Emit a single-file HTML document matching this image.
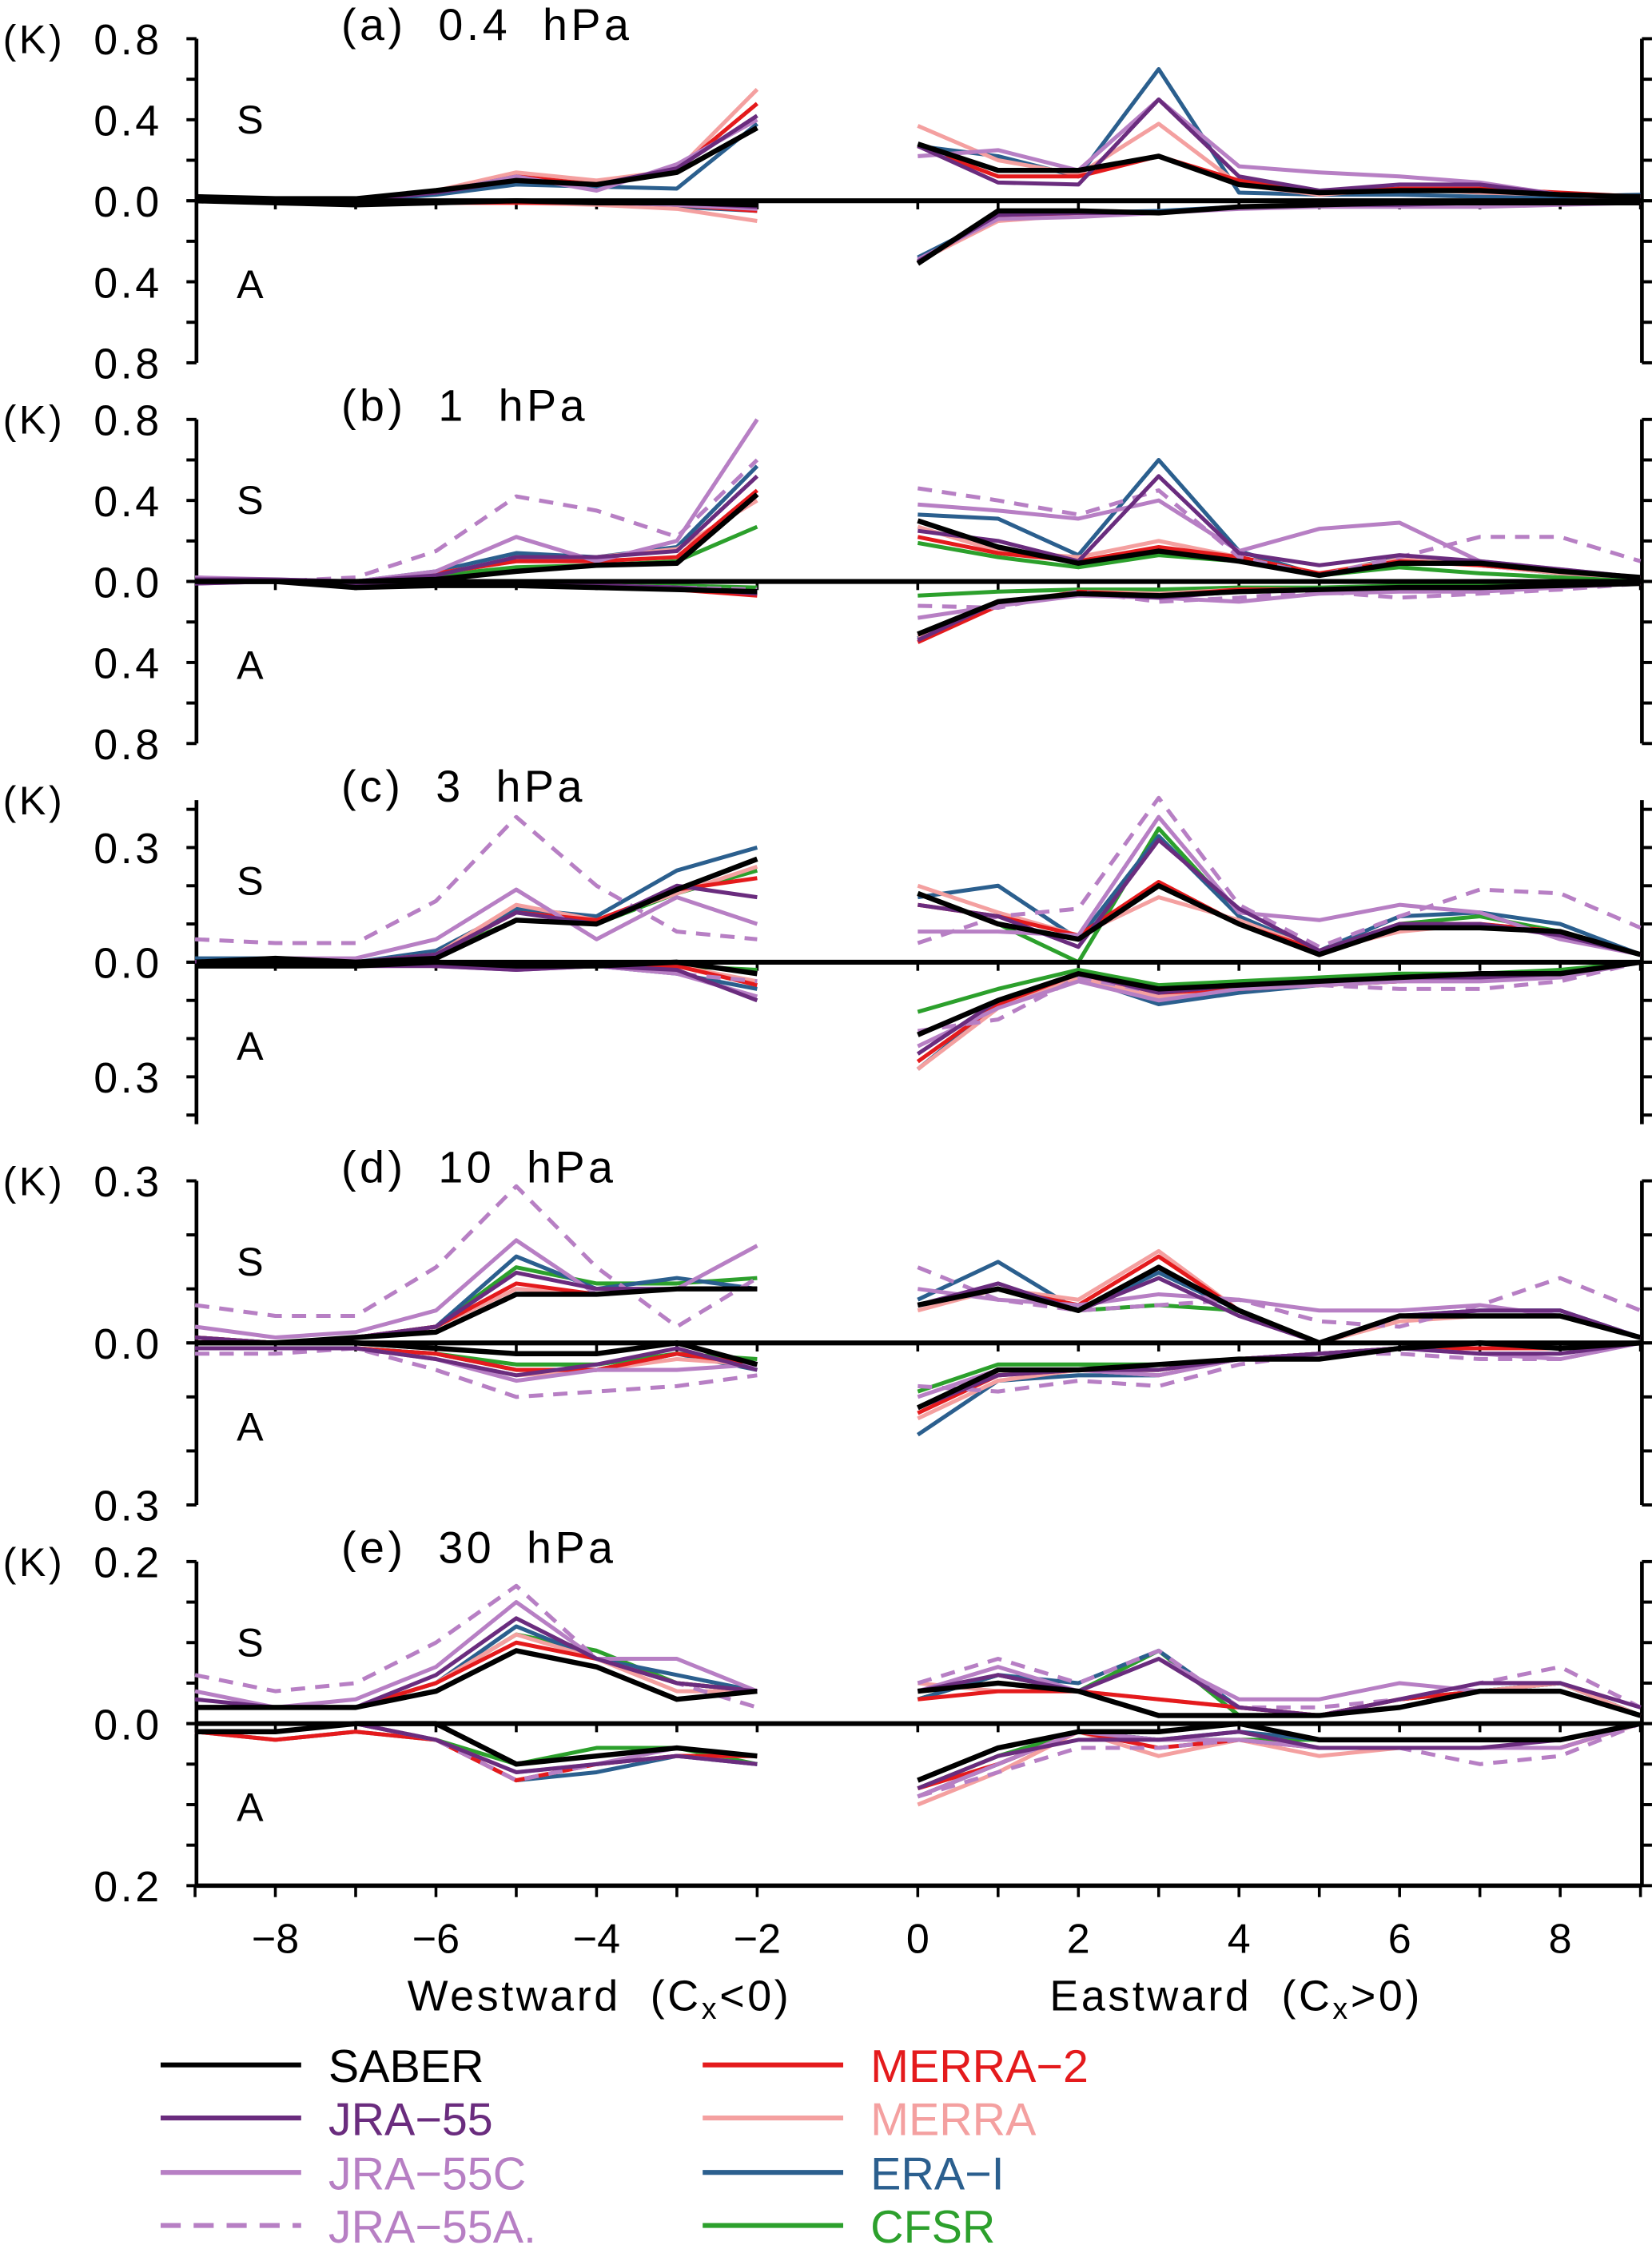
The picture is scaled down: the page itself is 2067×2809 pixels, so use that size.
<!DOCTYPE html>
<html><head><meta charset="utf-8"><style>
html,body{margin:0;padding:0;background:#fff;}
svg{display:block;font-family:"Liberation Sans","DejaVu Sans",sans-serif;}
text{white-space:pre;}
</style></head><body>
<svg id="chart" width="2067" height="2809" viewBox="0 0 1152 1565.6" xmlns="http://www.w3.org/2000/svg"></svg>
<script>
const xWest = [-9,-8,-7,-6,-5,-4,-3,-2];
const xEast = [0,1,2,3,4,5,6,7,8,9];
const seriesNames = ["CFSR","ERA-I","MERRA","MERRA-2","JRA-55A","JRA-55C","JRA-55","SABER"];
const panelTitles = ["(a)  0.4  hPa","(b)  1  hPa","(c)  3  hPa","(d)  10  hPa","(e)  30  hPa"];
const panelMax = [0.8,0.8,0.424,0.3,0.2];
const majorTicks = [[0.4,0.8],[0.4,0.8],[0.3],[0.3],[0.2]];
const minorStep = [0.2,0.2,0.1,0.1,0.05];
const xTickLabels = [-8,-6,-4,-2,0,2,4,6,8];

const aS = {
 "SABER":[.02,.01,.01,.05,.1,.08,.14,.36, .28,.15,.15,.22,.08,.04,.05,.05,.03,.02],
 "JRA-55":[.02,.01,0,.04,.1,.08,.16,.42, .27,.09,.08,.5,.12,.05,.08,.08,.03,.02],
 "JRA-55C":[.02,.01,.01,.04,.12,.05,.18,.4, .22,.25,.15,.5,.17,.14,.12,.09,.03,.01],
 "MERRA-2":[.02,.01,.01,.04,.12,.08,.15,.48, .27,.12,.12,.22,.1,.04,.06,.06,.04,.02],
 "MERRA":[.02,.01,.01,.05,.14,.1,.15,.55, .37,.2,.13,.38,.08,.03,.06,.04,.03,.02],
 "ERA-I":[.01,0,0,.03,.08,.07,.06,.38, .27,.22,.12,.65,.04,.03,.03,.02,.02,.03]
};
const aA = {
 "SABER":[0,.01,.02,.01,0,.01,.01,.02, .31,.05,.05,.06,.03,.02,.01,.01,.01,.01],
 "JRA-55":[0,.01,.01,.01,0,.01,.01,.03, .3,.07,.06,.06,.03,.02,.02,.01,.01,.01],
 "JRA-55C":[0,.01,.01,.01,0,.01,.02,.04, .29,.09,.08,.06,.04,.03,.03,.03,.02,.01],
 "MERRA-2":[0,.01,.01,.01,.01,.01,.02,.05, .3,.08,.06,.06,.03,.02,.02,.01,.01,.01],
 "MERRA":[0,.01,.01,.01,.01,.02,.04,.1, .3,.1,.07,.06,.03,.02,.02,.01,.01,.01],
 "ERA-I":[0,.01,.01,.01,0,.01,.03,.05, .28,.08,.06,.05,.03,.02,.02,.01,.01,.01]
};
const bS = {
 "SABER":[0,0,0,.01,.05,.08,.09,.43, .3,.17,.09,.15,.1,.03,.09,.09,.05,.02],
 "JRA-55":[.01,.01,0,.03,.12,.12,.15,.52, .25,.2,.1,.52,.14,.08,.13,.1,.06,.02],
 "JRA-55C":[.02,.01,0,.05,.22,.1,.2,.8, .38,.35,.31,.4,.15,.26,.29,.1,.06,.02],
 "JRA-55A":[.02,0,.02,.15,.42,.35,.22,.6, .46,.4,.33,.45,.12,.03,.12,.22,.22,.1],
 "MERRA-2":[.01,0,0,.04,.1,.1,.12,.45, .22,.14,.1,.17,.12,.04,.1,.08,.05,.02],
 "MERRA":[.01,0,0,.04,.1,.12,.16,.4, .27,.15,.12,.2,.12,.04,.11,.08,.04,.02],
 "ERA-I":[.01,0,0,.05,.14,.12,.17,.57, .33,.31,.13,.6,.15,.03,.12,.08,.04,.02],
 "CFSR":[0,0,0,.03,.07,.08,.1,.27, .19,.12,.07,.13,.1,.03,.07,.04,.02,.02]
};
const bA = {
 "SABER":[0,0,.03,.02,.02,.03,.04,.05, .26,.1,.06,.07,.05,.04,.03,.03,.02,.01],
 "JRA-55":[.01,0,.02,.01,.02,.02,.03,.06, .29,.1,.06,.08,.05,.04,.03,.03,.02,.01],
 "JRA-55C":[.01,0,.01,.01,.02,.02,.03,.05, .18,.12,.07,.08,.1,.06,.05,.05,.03,.01],
 "JRA-55A":[0,0,.01,.02,.02,.02,.03,.04, .12,.13,.05,.1,.08,.05,.08,.06,.04,.01],
 "MERRA-2":[0,0,.02,.01,.02,.03,.04,.07, .3,.12,.05,.07,.04,.04,.03,.03,.02,.01],
 "MERRA":[0,0,.02,.01,.01,.02,.03,.05, .27,.11,.05,.06,.04,.04,.03,.03,.02,.01],
 "ERA-I":[0,0,.02,.01,.02,.02,.03,.05, .28,.1,.06,.06,.05,.04,.03,.03,.02,.01],
 "CFSR":[0,0,.01,.01,.01,.02,.02,.03, .07,.05,.04,.04,.03,.03,.02,.02,.02,.01]
};
const cS = {
 "SABER":[0,.01,0,.01,.11,.1,.19,.27, .18,.1,.06,.2,.1,.02,.09,.09,.08,.02],
 "JRA-55":[0,.01,0,.02,.13,.1,.2,.17, .15,.12,.04,.32,.14,.03,.1,.1,.07,.02],
 "JRA-55C":[0,.01,.01,.06,.19,.06,.17,.1, .08,.08,.07,.38,.13,.11,.15,.13,.06,.02],
 "JRA-55A":[.06,.05,.05,.16,.38,.2,.08,.06, .05,.12,.14,.43,.15,.04,.12,.19,.18,.09],
 "MERRA-2":[0,0,0,.02,.13,.11,.19,.22, .15,.12,.07,.21,.1,.03,.1,.1,.08,.02],
 "MERRA":[0,0,0,.02,.15,.11,.18,.25, .2,.13,.07,.17,.11,.03,.08,.1,.08,.02],
 "ERA-I":[.01,.01,0,.03,.14,.12,.24,.3, .17,.2,.06,.33,.12,.03,.12,.13,.1,.02],
 "CFSR":[0,.01,0,.02,.11,.1,.18,.24, .18,.1,0,.35,.12,.02,.1,.12,.08,.02]
};
const cA = {
 "SABER":[.01,.01,.01,0,.01,.01,0,.03, .19,.1,.03,.07,.06,.05,.04,.03,.03,0],
 "JRA-55":[0,0,.01,.01,.02,.01,.02,.1, .24,.1,.03,.08,.06,.05,.04,.04,.03,0],
 "JRA-55C":[0,0,0,.01,.02,.01,.03,.09, .22,.12,.05,.1,.07,.06,.05,.05,.04,0],
 "JRA-55A":[0,0,0,.01,.01,.01,.03,.05, .18,.15,.04,.08,.06,.06,.07,.07,.05,0],
 "MERRA-2":[0,0,0,.01,.01,.01,.01,.06, .26,.11,.03,.08,.07,.06,.05,.04,.03,0],
 "MERRA":[0,0,0,.01,.01,.01,.01,.05, .28,.12,.04,.09,.07,.06,.05,.04,.03,0],
 "ERA-I":[0,0,0,.01,.01,.01,.03,.07, .28,.11,.04,.11,.08,.06,.05,.04,.03,0],
 "CFSR":[0,0,0,0,.01,.01,.01,.02, .13,.07,.02,.06,.05,.04,.03,.03,.02,0]
};
const dS = {
 "SABER":[0,0,.01,.02,.09,.09,.1,.1, .07,.1,.06,.14,.06,0,.05,.05,.05,.01],
 "JRA-55":[.01,0,.01,.03,.13,.1,.1,.1, .07,.11,.06,.12,.05,0,.05,.06,.06,.01],
 "JRA-55C":[.03,.01,.02,.06,.19,.09,.1,.18, .1,.08,.07,.09,.08,.06,.06,.07,.05,.01],
 "JRA-55A":[.07,.05,.05,.14,.29,.14,.03,.12, .14,.08,.06,.07,.08,.04,.03,.07,.12,.06],
 "MERRA-2":[.01,0,.01,.03,.11,.09,.1,.1, .07,.1,.07,.16,.06,0,.05,.05,.05,.01],
 "MERRA":[.01,0,.01,.03,.1,.09,.1,.1, .06,.1,.08,.17,.06,0,.04,.05,.05,.01],
 "ERA-I":[.01,0,.01,.03,.16,.1,.12,.1, .08,.15,.06,.13,.06,0,.05,.06,.06,.01],
 "CFSR":[.01,0,.01,.03,.14,.11,.11,.12, .07,.1,.06,.07,.06,0,.05,.05,.05,.01]
};
const dA = {
 "SABER":[0,0,0,.01,.02,.02,0,.04, .12,.05,.05,.04,.03,.03,.01,0,.01,0],
 "JRA-55":[.01,.01,.01,.03,.06,.04,.01,.05, .12,.06,.05,.05,.03,.02,.01,.02,.02,0],
 "JRA-55C":[.01,.01,.01,.03,.07,.05,.05,.04, .1,.05,.05,.06,.03,.02,.01,.02,.03,0],
 "JRA-55A":[.02,.02,.01,.05,.1,.09,.08,.06, .08,.09,.07,.08,.04,.02,.02,.03,.03,0],
 "MERRA-2":[.01,.01,.01,.02,.05,.05,.02,.04, .13,.06,.05,.05,.03,.02,.01,.01,.01,0],
 "MERRA":[.01,.01,.01,.03,.06,.05,.03,.04, .14,.07,.05,.06,.03,.02,.01,.01,.01,0],
 "ERA-I":[.01,.01,.01,.02,.05,.05,.02,.05, .17,.07,.06,.06,.03,.02,.01,.01,.01,0],
 "CFSR":[.01,.01,.01,.02,.04,.04,.02,.03, .09,.04,.04,.04,.03,.02,.01,.01,.01,0]
};
const eS = {
 "SABER":[.02,.02,.02,.04,.09,.07,.03,.04, .04,.05,.04,.01,.01,.01,.02,.04,.04,.01],
 "JRA-55":[.03,.02,.02,.06,.13,.08,.05,.04, .04,.06,.04,.08,.02,.01,.03,.05,.05,.02],
 "JRA-55C":[.04,.02,.03,.07,.15,.08,.08,.04, .04,.07,.04,.08,.03,.03,.05,.04,.04,.01],
 "JRA-55A":[.06,.04,.05,.1,.17,.08,.05,.02, .05,.08,.05,.09,.02,.02,.03,.05,.07,.02],
 "MERRA-2":[.02,.02,.02,.05,.1,.08,.05,.04, .03,.04,.04,.03,.02,.01,.03,.04,.04,.01],
 "MERRA":[.02,.02,.02,.05,.11,.08,.04,.04, .05,.04,.04,.03,.02,.01,.03,.04,.05,.01],
 "ERA-I":[.02,.02,.02,.05,.12,.08,.06,.04, .03,.06,.05,.09,.02,.01,.03,.04,.05,.01],
 "CFSR":[.02,.02,.02,.05,.11,.09,.05,.04, .03,.06,.04,.09,.01,.01,.03,.04,.05,.01]
};
const eA = {
 "SABER":[.01,.01,0,0,.05,.04,.03,.04, .07,.03,.01,.01,0,.02,.02,.02,.02,0],
 "JRA-55":[.01,.01,0,.02,.06,.05,.04,.05, .08,.04,.02,.02,.01,.03,.03,.03,.02,0],
 "JRA-55C":[.01,.01,0,.02,.06,.05,.03,.04, .09,.05,.01,.02,.02,.03,.03,.03,.03,0],
 "JRA-55A":[.01,.01,0,.02,.07,.05,.04,.05, .09,.06,.03,.03,.02,.03,.03,.05,.04,0],
 "MERRA-2":[.01,.02,.01,.02,.07,.05,.04,.04, .08,.05,.01,.03,.02,.03,.03,.03,.03,0],
 "MERRA":[.01,.02,.01,.02,.07,.05,.04,.04, .1,.06,.01,.04,.02,.04,.03,.03,.03,0],
 "ERA-I":[.01,.02,.01,.02,.07,.06,.04,.05, .09,.05,.01,.02,.01,.02,.02,.02,.02,0],
 "CFSR":[.01,.01,0,.02,.05,.03,.03,.05, .08,.04,.01,.02,.02,.02,.02,.02,.02,0]
};
const panelS = [aS,bS,cS,dS,eS];
const panelA = [aA,bA,cA,dA,eA];

const NS="http://www.w3.org/2000/svg";
const svg=document.getElementById('chart');
const style={
 "SABER":{c:"#000000",w:3.6,d:null},
 "JRA-55":{c:"#6a2c7e",w:2.8,d:null},
 "JRA-55C":{c:"#b77fc4",w:2.8,d:null},
 "JRA-55A":{c:"#b77fc4",w:2.8,d:"10,7"},
 "MERRA-2":{c:"#e41a1c",w:2.8,d:null},
 "MERRA":{c:"#f4a0a0",w:2.8,d:null},
 "ERA-I":{c:"#2b5f8e",w:2.8,d:null},
 "CFSR":{c:"#2ca02c",w:2.8,d:null}
};
function mk(tag,attrs,parent){const e=document.createElementNS(NS,tag);for(const k in attrs)e.setAttribute(k,attrs[k]);(parent||svg).appendChild(e);return e;}
const X0=640, DX=56, XL=137, XR=1145, HALF=113;
const zeros=[140,405.5,671,936.5,1202];
function xs(c){return X0+DX*c;}

zeros.forEach((z,p)=>{
  const g=mk('g',{});
  
  
  const sc=HALF/panelMax[p];
  const ys=(v,sgn)=>z-sgn*v*sc;
  const la=mk('line',{x1:XL,y1:z-HALF,x2:XL,y2:z+HALF,stroke:'#000','stroke-width':2.6},g);
  
  const ra=mk('line',{x1:XR,y1:z-HALF,x2:XR,y2:z+HALF,stroke:'#000','stroke-width':2.6},g);
  
  for(let v=0; v<=panelMax[p]+1e-6; v+=minorStep[p]){
    [1,-1].forEach(s=>{
      const y=ys(v,s);
      mk('line',{x1:XL-7,y1:y,x2:XL,y2:y,stroke:'#000','stroke-width':2.2},g);
      mk('line',{x1:XR,y1:y,x2:XR+7,y2:y,stroke:'#000','stroke-width':2.2},g);
    });
  }
  [0].concat(majorTicks[p]).forEach(v=>{
    [1,-1].forEach(s=>{
      if(v===0&&s===-1)return;
      const t=mk('text',{x:113,y:ys(v,s)+11,'text-anchor':'end','font-size':30,'letter-spacing':2},g);
      t.textContent=v.toFixed(1);
      
    });
  });
  const k=mk('text',{x:2,y:z-HALF+10,'font-size':28,'letter-spacing':2},g);k.textContent='(K)';
  
  const ti=mk('text',{x:238,y:z-HALF+1,'font-size':31,'letter-spacing':2.5},g);ti.textContent=panelTitles[p];
  
  const sl=mk('text',{x:165,y:z-47,'font-size':28},g);sl.textContent='S';
  
  const al=mk('text',{x:165,y:z+68,'font-size':28},g);al.textContent='A';
  
  for(let c=-8;c<=9;c++){ if(c===-1)continue;
    mk('line',{x1:xs(c),y1:z,x2:xs(c),y2:z+6,stroke:'#000','stroke-width':2},g);}
  [[panelS[p],1],[panelA[p],-1]].forEach(([obj,sgn])=>{
    seriesNames.forEach(n=>{
      const vals=obj[n]; if(!vals)return;
      const st=style[n];
      const west=xWest.map((c,i)=>xs(c)+','+ys(vals[i],sgn)).join(' ');
      const east=xEast.map((c,i)=>xs(c)+','+ys(vals[8+i],sgn)).join(' ');
      [west,east].forEach((pts,j)=>{
        const pl=mk('polyline',{points:pts,fill:'none',stroke:st.c,'stroke-width':st.w,'stroke-linejoin':'round'},g);
        if(st.d)pl.setAttribute('stroke-dasharray',st.d);
        
        
      });
    });
  });
  const zl=mk('line',{x1:XL,y1:z,x2:XR,y2:z,stroke:'#000','stroke-width':3.4},g);
  
});
const xb=1315;
const xa=mk('line',{x1:XL,y1:xb,x2:XR,y2:xb,stroke:'#000','stroke-width':3});

for(let c=-9;c<=9;c++){ if(c===-1)continue;
  mk('line',{x1:xs(c),y1:xb,x2:xs(c),y2:xb+8,stroke:'#000','stroke-width':2});}
xTickLabels.forEach(v=>{
  const t=mk('text',{x:xs(v),y:1362,'text-anchor':'middle','font-size':29});
  t.textContent=v<0?'\u2212'+Math.abs(v):String(v);
  
});
const wt=mk('text',{x:418,y:1402,'text-anchor':'middle','font-size':30,'letter-spacing':2});
wt.innerHTML='Westward  (C<tspan font-size="21" dy="6">x</tspan><tspan dy="-6">&lt;0)</tspan>';

const et=mk('text',{x:862,y:1402,'text-anchor':'middle','font-size':30,'letter-spacing':2});
et.innerHTML='Eastward  (C<tspan font-size="21" dy="6">x</tspan><tspan dy="-6">&gt;0)</tspan>';

const legend=[["SABER",112,1440],["JRA-55",112,1477],["JRA-55C",112,1515],["JRA-55A",112,1552],
 ["MERRA-2",490,1440],["MERRA",490,1477],["ERA-I",490,1515],["CFSR",490,1552]];
const labels={"SABER":"SABER","JRA-55":"JRA\u221255","JRA-55C":"JRA\u221255C","JRA-55A":"JRA\u221255A.","MERRA-2":"MERRA\u22122","MERRA":"MERRA","ERA-I":"ERA\u2212I","CFSR":"CFSR"};
legend.forEach(([n,x,y])=>{
  const st=style[n];
  const g=mk('g',{});
  
  
  const l=mk('line',{x1:x,y1:y,x2:x+98,y2:y,stroke:st.c,'stroke-width':3.4},g);
  if(st.d)l.setAttribute('stroke-dasharray','14,9');
  const t=mk('text',{x:x+117,y:y+12,'font-size':32,fill:n==="SABER"?"#000":st.c},g);
  t.textContent=labels[n];
});
</script>
</body></html>
